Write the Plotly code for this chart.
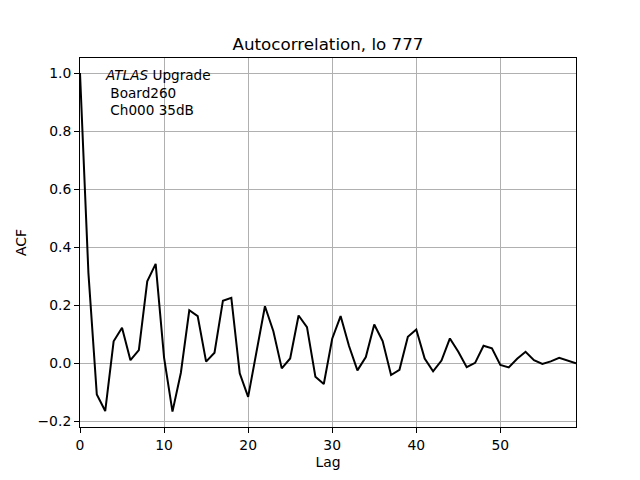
import plotly.graph_objects as go

lags = list(range(60))
acf = [1.0, 0.312, -0.107, -0.164, 0.076, 0.123, 0.011, 0.046, 0.283, 0.343,
       0.02, -0.166, -0.032, 0.183, 0.163, 0.006, 0.037, 0.216, 0.226, -0.034,
       -0.115, 0.042, 0.197, 0.111, -0.017, 0.017, 0.165, 0.125, -0.046, -0.071,
       0.085, 0.163, 0.06, -0.024, 0.022, 0.134, 0.077, -0.04, -0.022, 0.092,
       0.117, 0.017, -0.027, 0.010, 0.086, 0.04, -0.013, 0.002, 0.061, 0.052,
       -0.005, -0.014, 0.016, 0.04, 0.011, -0.002, 0.007, 0.019, 0.009, 0.0]
x_ticks = [0, 10, 20, 30, 40, 50]
y_ticks = [-0.2, 0.0, 0.2, 0.4, 0.6, 0.8, 1.0]

fig = go.Figure()
fig.add_trace(go.Scatter(x=lags, y=acf, mode="lines",
                         line=dict(color="black", width=2), showlegend=False))

font = "DejaVu Sans, sans-serif"
axis_common = dict(showline=True, linecolor="black", linewidth=1, mirror=True,
                   ticks="outside", ticklen=5, tickwidth=1, tickcolor="black",
                   showgrid=True, gridcolor="#b0b0b0", gridwidth=1,
                   zeroline=False, tickfont=dict(size=13.9, color="black", family=font))

W, H = 632, 472
fig.update_layout(
    width=W, height=H,
    margin=dict(l=72, r=64, t=50, b=53),
    paper_bgcolor="white", plot_bgcolor="white",
    font=dict(family=font, color="black"),
    title=dict(text="Autocorrelation, lo 777", xref="paper", x=0.5, xanchor="center",
               y=1 - 36 / H, yanchor="middle", font=dict(size=16.7, family=font)),
    xaxis=dict(range=[0, 59], tickvals=x_ticks,
               title=dict(text="Lag", font=dict(size=13.9), standoff=5), **axis_common),
    yaxis=dict(range=[-0.219, 1.052], tickvals=y_ticks, tickformat=".1f",
               title=dict(text="ACF", font=dict(size=13.9), standoff=7), **axis_common),
    annotations=[dict(
        xref="paper", yref="paper", x=0.046, y=0.98, xanchor="left", yanchor="top",
        align="left", showarrow=False,
        text="<i>ATLAS</i> Upgrade<br>&nbsp;Board260<br>&nbsp;Ch000 35dB",
        font=dict(size=13.6, family=font, color="black"))],
)

fig.write_html("out.html")
